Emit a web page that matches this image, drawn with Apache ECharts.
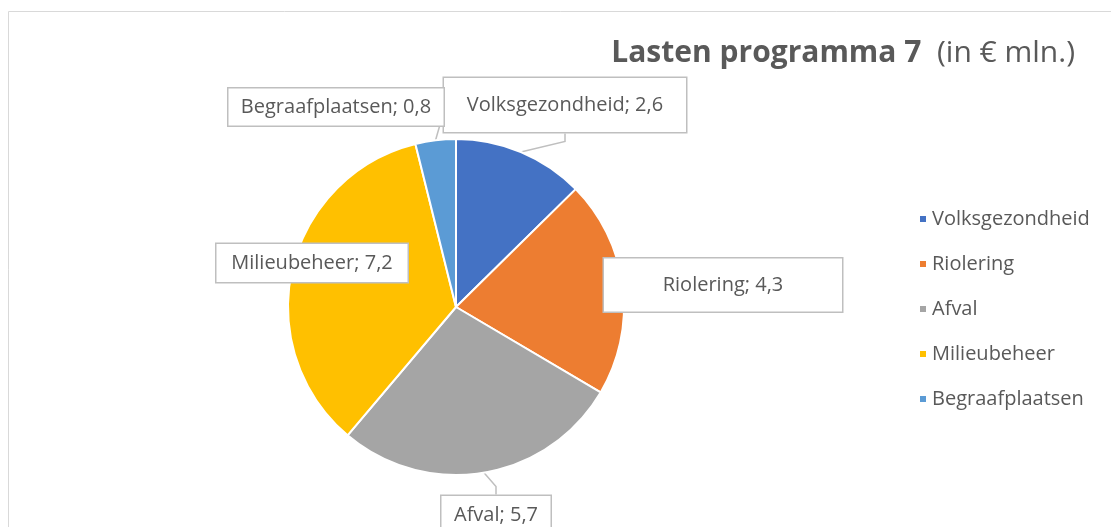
<!DOCTYPE html>
<html>
<head>
<meta charset="utf-8">
<script src="https://cdn.jsdelivr.net/npm/echarts@6/dist/echarts.min.js"></script>
<style>
  html, body { margin: 0; padding: 0; background: #fff; }
  #chart { width: 1111px; height: 527px; }
</style>
</head>
<body>
<div id="chart"></div>
<script>
const categories = ['Volksgezondheid', 'Riolering', 'Afval', 'Milieubeheer', 'Begraafplaatsen'];
const values = [2.6, 4.3, 5.7, 7.2, 0.8];
const colors = ['#4472C4', '#ED7D31', '#A5A5A5', '#FFC000', '#5B9BD5'];

// label boxes: centre x/y, width, height
const labelBoxes = [
  { x: 565, y: 105, w: 242, h: 54 },
  { x: 723, y: 285, w: 238, h: 53 },
  { x: 496, y: 515, w: 109, h: 38 },
  { x: 312, y: 263, w: 191, h: 38 },
  { x: 336, y: 107, w: 215, h: 37 }
];
const showLine = [true, false, true, false, true];

const chart = echarts.init(document.getElementById('chart'));

const option = {
  animation: false,
  color: colors,
  title: {
    text: '{b|Lasten programma 7}{n|  (in € mln.)}',
    right: 31,
    top: 33,
    textStyle: {
      fontWeight: 'normal',
      rich: {
        b: { fontFamily: 'Open Sans', fontSize: 30, fontWeight: 'bold', color: '#595959' },
        n: { fontFamily: 'Open Sans', fontSize: 30, fontWeight: 'normal', color: '#595959' }
      }
    }
  },
  legend: {
    orient: 'vertical',
    left: 913,
    top: 204,
    icon: 'rect',
    itemWidth: 8,
    itemHeight: 8,
    itemGap: 25,
    data: categories,
    textStyle: { fontFamily: 'Open Sans', fontSize: 20, color: '#595959' }
  },
  graphic: [{
    type: 'rect',
    shape: { x: 8.5, y: 11.5, width: 1200, height: 600 },
    style: { fill: 'none', stroke: '#d9d9d9', lineWidth: 1 },
    silent: true,
    z: -10
  }],
  series: [{
    type: 'pie',
    center: [456, 307],
    radius: 168,
    startAngle: 90,
    clockwise: true,
    itemStyle: { borderColor: '#fff', borderWidth: 2 },
    label: {
      show: true,
      formatter: p => p.name + '; ' + String(p.value).replace('.', ','),
      fontFamily: 'Open Sans',
      fontSize: 20,
      color: '#595959',
      backgroundColor: '#fff',
      borderColor: '#bfbfbf',
      borderWidth: 1.5,
      padding: 0,
      align: 'center',
      verticalAlign: 'middle'
    },
    labelLine: {
      show: true,
      length: 12,
      length2: 8,
      smooth: false,
      lineStyle: { color: '#bfbfbf', width: 1.5 }
    },
    labelLayout: function (params) {
      const b = labelBoxes[params.dataIndex];
      return { x: b.x, y: b.y, align: 'center', verticalAlign: 'middle' };
    },
    data: categories.map((name, i) => ({
      name: name,
      value: values[i],
      label: {
        width: labelBoxes[i].w,
        height: labelBoxes[i].h,
        lineHeight: labelBoxes[i].h
      },
      labelLine: { show: showLine[i] }
    }))
  }]
};

chart.setOption(option);
</script>
</body>
</html>
